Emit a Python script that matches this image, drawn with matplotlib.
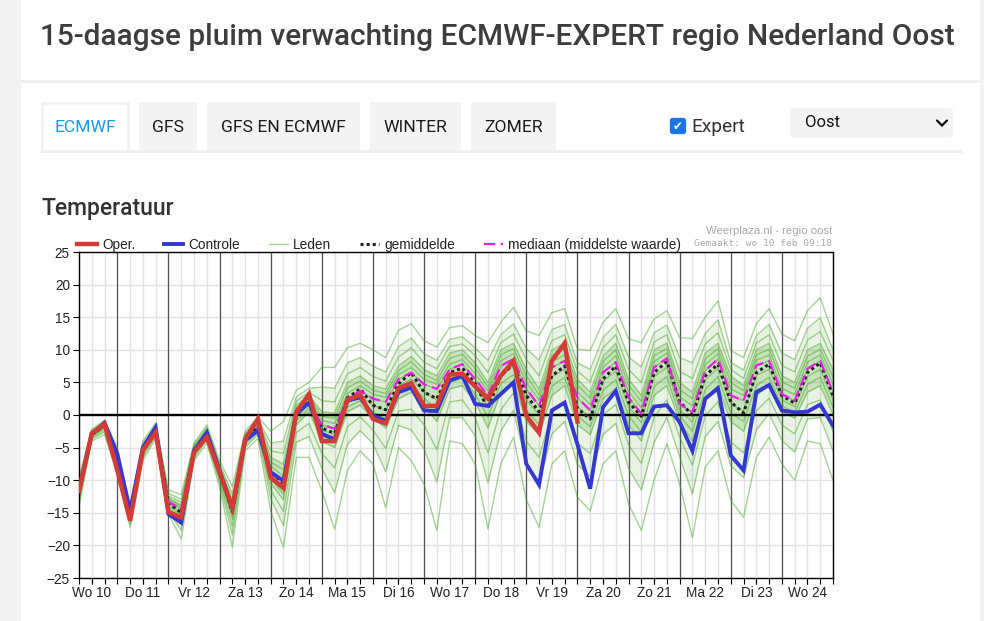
"""
15-daagse pluim (ECMWF-EXPERT, regio Nederland Oost) - Weerplaza-stijl
"""
import numpy as np
import matplotlib
matplotlib.use("Agg")
import matplotlib.pyplot as plt
from matplotlib.patches import Rectangle, FancyBboxPatch

# ─── Data ────────────────────────────────────────────────────────────────────
# uren na wo 10 feb 00:00, stappen van 6 uur
uren = list(range(6, 361, 6))
dagen = ["Wo 10", "Do 11", "Vr 12", "Za 13", "Zo 14", "Ma 15", "Di 16", "Wo 17",
         "Do 18", "Vr 19", "Za 20", "Zo 21", "Ma 22", "Di 23", "Wo 24"]

# operationele run (10 dagen)
oper = [-11.6, -2.8, -1.4, -8.5, -16.2, -5.4, -2.7, -14.9, -15.7, -5.7,
        -3.4, -8.8, -14.2, -3.7, -0.6, -9.6, -11.2, 0.4, 3.2, -4.0,
        -4.0, 2.3, 3.1, -0.6, -1.3, 4.1, 4.9, 1.4, 1.4, 6.2,
        6.3, 4.4, 2.5, 6.0, 8.3, -0.1, -2.7, 8.3, 11.0, -1.0]

controle = [-11.5, -2.9, -1.2, -6.0, -14.7, -5.0, -1.9, -15.2, -16.5, -5.5,
            -2.7, -8.5, -14.4, -3.9, -2.4, -8.8, -10.1, 0.2, 1.9, -2.9,
            -3.7, 2.2, 2.7, -0.1, -0.9, 3.5, 4.2, 0.7, 0.6, 5.3,
            6.0, 1.7, 1.4, 3.2, 5.0, -7.5, -10.7, 0.7, 1.9, -4.5,
            -11.3, 1.2, 3.7, -2.8, -2.8, 1.3, 1.5, -1.1, -5.5, 2.5,
            4.1, -6.2, -8.5, 3.5, 4.6, 0.7, 0.4, 0.5, 1.6, -1.6]

gemiddelde = [-12.0, -3.0, -1.6, -6.5, -15.5, -5.3, -2.2, -13.5, -15.0, -5.5,
              -2.8, -8.8, -14.8, -3.8, -1.8, -8.7, -10.5, 0.2, 2.0, -2.0,
              -2.8, 2.6, 4.0, 1.5, 0.8, 4.8, 6.5, 3.5, 2.5, 6.5,
              7.2, 4.8, 1.0, 6.0, 7.8, 3.0, 0.5, 6.0, 7.5, 1.0,
              -0.6, 5.5, 7.5, 2.0, -0.2, 6.5, 8.2, 2.0, 0.0, 6.0,
              7.8, 2.0, 0.3, 6.5, 7.8, 3.0, 1.8, 6.5, 8.0, 3.0]

mediaan = [-12.0, -3.0, -1.6, -6.5, -15.5, -5.3, -2.2, -13.3, -14.5, -5.5,
           -2.8, -8.8, -14.5, -3.8, -1.8, -8.5, -10.3, 0.3, 2.0, -1.5,
           -2.1, 2.5, 3.7, 2.5, 2.0, 5.5, 6.5, 4.7, 4.0, 7.0,
           7.8, 5.5, 3.0, 7.5, 8.6, 4.0, 1.4, 7.3, 8.3, 2.7,
           0.7, 6.5, 8.1, 2.7, 0.2, 7.3, 8.7, 1.7, 0.4, 6.8,
           8.6, 3.0, 2.2, 7.6, 8.3, 3.2, 2.2, 7.1, 8.3, 3.5]

# ensembleleden per tijdstap (geschat, van laag naar hoog)
leden = [
    [-14.0, -13.3, -12.9, -12.5, -12.3, -12.2, -12.0, -11.7, -11.3, -11.0, -10.6, -10.2, -9.5],
    [-4.0, -3.7, -3.5, -3.3, -3.2, -3.1, -3.0, -2.9, -2.8, -2.7, -2.6, -2.4, -2.2],
    [-3.0, -2.6, -2.3, -2.0, -1.9, -1.7, -1.6, -1.5, -1.4, -1.3, -1.2, -1.0, -0.8],
    [-9.0, -8.3, -7.9, -7.5, -7.2, -6.8, -6.5, -6.3, -6.2, -6.0, -5.8, -5.5, -5.0],
    [-17.2, -16.7, -16.3, -16.0, -15.8, -15.7, -15.5, -15.3, -15.2, -15.0, -14.8, -14.5, -14.0],
    [-7.0, -6.5, -6.1, -5.8, -5.6, -5.5, -5.3, -5.1, -5.0, -4.8, -4.6, -4.4, -4.0],
    [-3.6, -3.2, -2.9, -2.6, -2.5, -2.3, -2.2, -2.1, -1.9, -1.8, -1.7, -1.5, -1.2],
    [-15.2, -14.8, -14.5, -14.2, -13.9, -13.6, -13.3, -13.1, -12.9, -12.7, -12.4, -12.0, -11.5],
    [-19.0, -17.7, -16.8, -16.0, -15.5, -15.0, -14.5, -14.3, -14.0, -13.8, -13.4, -12.9, -12.2],
    [-7.0, -6.6, -6.3, -6.0, -5.8, -5.7, -5.5, -5.3, -5.2, -5.0, -4.8, -4.6, -4.3],
    [-4.3, -3.8, -3.5, -3.2, -3.1, -2.9, -2.8, -2.6, -2.5, -2.3, -2.1, -1.9, -1.5],
    [-11.0, -10.3, -9.9, -9.5, -9.3, -9.0, -8.8, -8.6, -8.4, -8.2, -7.9, -7.5, -7.0],
    [-20.3, -18.4, -17.1, -16.0, -15.5, -15.0, -14.5, -14.2, -13.8, -13.5, -12.9, -12.1, -11.0],
    [-5.5, -5.0, -4.6, -4.3, -4.1, -4.0, -3.8, -3.6, -3.5, -3.3, -3.1, -2.9, -2.5],
    [-3.6, -3.0, -2.6, -2.3, -2.1, -2.0, -1.8, -1.6, -1.4, -1.2, -1.0, -0.7, -0.3],
    [-14.7, -12.8, -11.5, -10.5, -9.8, -9.2, -8.5, -7.8, -7.2, -6.5, -5.5, -4.3, -2.5],
    [-20.3, -17.0, -14.8, -13.0, -12.1, -11.2, -10.3, -9.4, -8.4, -7.5, -5.9, -4.0, -1.0],
    [-6.5, -4.2, -2.7, -1.5, -0.9, -0.3, 0.3, 0.7, 1.1, 1.5, 2.1, 2.8, 3.8],
    [-6.5, -3.3, -1.3, 0.5, 1.0, 1.5, 2.0, 2.3, 2.7, 3.0, 3.5, 4.1, 5.0],
    [-11.6, -8.2, -5.9, -4.0, -3.2, -2.3, -1.5, -0.8, -0.2, 0.5, 2.2, 4.3, 7.3],
    [-17.5, -11.9, -8.1, -5.0, -4.0, -3.0, -2.1, -1.3, -0.5, 0.3, 2.0, 4.1, 7.3],
    [-8.5, -4.5, -1.8, 0.5, 1.2, 1.8, 2.5, 3.3, 4.2, 5.0, 6.3, 8.0, 10.3],
    [-5.5, -2.4, -0.3, 1.5, 2.2, 3.0, 3.7, 4.5, 5.2, 6.0, 7.3, 8.8, 11.0],
    [-7.5, -4.4, -2.3, -0.5, 0.5, 1.5, 2.5, 3.2, 3.8, 4.5, 5.9, 7.5, 10.0],
    [-14.2, -8.7, -5.1, -2.0, -0.7, 0.7, 2.0, 2.7, 3.3, 4.0, 5.2, 6.6, 8.8],
    [-5.0, -1.6, 0.6, 2.5, 3.5, 4.5, 5.5, 6.2, 6.8, 7.5, 8.9, 10.5, 13.0],
    [-7.0, -2.3, 0.9, 3.5, 4.5, 5.5, 6.5, 7.3, 8.2, 9.0, 10.3, 11.8, 14.0],
    [-10.6, -5.2, -1.5, 1.5, 2.6, 3.6, 4.7, 5.5, 6.2, 7.0, 8.1, 9.4, 11.4],
    [-17.7, -10.3, -5.3, -1.0, 0.7, 2.3, 4.0, 4.7, 5.3, 6.0, 7.1, 8.4, 10.4],
    [-4.0, -0.4, 2.0, 4.0, 5.0, 6.0, 7.0, 7.8, 8.7, 9.5, 10.5, 11.6, 13.4],
    [-4.4, -0.4, 2.3, 4.5, 5.6, 6.7, 7.8, 8.5, 9.3, 10.0, 10.9, 12.0, 13.7],
    [-7.5, -3.2, -0.4, 2.0, 3.2, 4.3, 5.5, 6.3, 7.2, 8.0, 9.1, 10.3, 12.2],
    [-17.5, -10.4, -5.8, -2.0, -0.3, 1.3, 3.0, 3.7, 4.3, 5.0, 6.5, 8.4, 11.1],
    [-7.5, -2.5, 0.8, 3.5, 4.8, 6.2, 7.5, 8.3, 9.2, 10.0, 11.1, 12.3, 14.2],
    [-3.4, 0.7, 3.4, 5.0, 6.2, 7.4, 8.6, 9.4, 10.2, 11.0, 12.4, 14.0, 16.5],
    [-13.0, -7.6, -4.0, -1.0, 0.7, 2.3, 4.0, 5.0, 6.0, 7.0, 8.5, 10.2, 12.9],
    [-17.2, -10.7, -6.5, -3.0, -1.5, 0.0, 1.4, 2.3, 3.1, 4.0, 6.0, 8.4, 12.2],
    [-7.5, -2.9, 0.4, 3.0, 4.4, 5.9, 7.3, 8.2, 9.1, 10.0, 11.4, 13.1, 15.7],
    [-5.5, -1.0, 2.0, 4.5, 5.8, 7.0, 8.3, 9.2, 10.1, 11.0, 12.3, 13.9, 16.3],
    [-12.6, -7.6, -4.3, -1.5, -0.1, 1.3, 2.7, 3.6, 4.6, 5.5, 6.7, 8.0, 10.1],
    [-14.7, -9.4, -5.9, -3.0, -1.8, -0.5, 0.7, 1.6, 2.6, 3.5, 5.1, 7.0, 9.9],
    [-7.5, -3.0, 0.0, 2.5, 3.8, 5.2, 6.5, 7.3, 8.2, 9.0, 10.3, 11.9, 14.2],
    [-5.5, -1.3, 1.6, 4.0, 5.4, 6.7, 8.1, 9.1, 10.0, 11.0, 12.3, 13.9, 16.3],
    [-13.6, -8.2, -4.6, -1.5, -0.1, 1.3, 2.7, 3.6, 4.6, 5.5, 7.0, 8.9, 11.7],
    [-17.7, -11.5, -7.4, -4.0, -2.6, -1.2, 0.2, 1.1, 2.1, 3.0, 5.0, 7.4, 11.1],
    [-10.0, -4.2, -0.3, 3.0, 4.4, 5.9, 7.3, 8.2, 9.1, 10.0, 11.2, 12.6, 14.7],
    [-4.4, -0.4, 2.3, 4.5, 5.9, 7.3, 8.7, 9.5, 10.2, 11.0, 12.3, 13.8, 16.0],
    [-10.6, -6.4, -3.4, -1.0, -0.1, 0.8, 1.7, 2.8, 3.9, 5.0, 6.7, 8.8, 11.9],
    [-18.8, -12.1, -7.7, -4.0, -2.5, -1.1, 0.4, 1.4, 2.5, 3.5, 5.6, 8.0, 11.7],
    [-8.0, -3.3, -0.1, 2.5, 3.9, 5.4, 6.8, 7.7, 8.6, 9.5, 10.9, 12.5, 15.0],
    [-5.5, -1.0, 2.0, 4.5, 5.9, 7.2, 8.6, 9.4, 10.2, 11.0, 12.6, 14.6, 17.5],
    [-13.1, -7.8, -4.1, -1.0, 0.3, 1.7, 3.0, 4.0, 5.0, 6.0, 7.0, 8.1, 9.9],
    [-15.7, -9.6, -5.8, -2.5, -1.0, 0.6, 2.2, 3.0, 3.7, 4.5, 5.6, 6.9, 8.8],
    [-6.5, -2.3, 0.6, 3.0, 4.5, 6.1, 7.6, 8.4, 9.2, 10.0, 11.0, 12.2, 14.0],
    [-3.4, 0.2, 2.6, 4.5, 5.8, 7.0, 8.3, 9.2, 10.1, 11.0, 12.3, 13.9, 16.3],
    [-7.5, -3.9, -1.5, 0.5, 1.4, 2.3, 3.2, 4.1, 5.1, 6.0, 7.6, 9.5, 12.4],
    [-10.0, -5.7, -2.9, -0.5, 0.4, 1.3, 2.2, 3.1, 4.1, 5.0, 6.6, 8.5, 11.4],
    [-4.0, -0.6, 1.6, 3.5, 4.7, 5.9, 7.1, 8.1, 9.0, 10.0, 11.5, 13.3, 16.0],
    [-4.4, -0.4, 2.3, 4.5, 5.8, 7.0, 8.3, 9.2, 10.1, 11.0, 12.8, 14.9, 18.0],
    [-10.0, -5.5, -2.5, 0.0, 1.2, 2.3, 3.5, 4.7, 5.8, 7.0, 8.4, 10.0, 12.4],
]

# ─── Stijl ───────────────────────────────────────────────────────────────────
RED = "#d43a36"
BLUE = "#3438d0"
GREEN = "#45a322"
MAGENTA = "#e81ee8"
PAGE_BG = "#f3f3f3"
GRID = "#e2e2e2"
DAYLINE = "#555555"

plt.rcParams["font.family"] = ["Liberation Sans", "DejaVu Sans"]

fig = plt.figure(figsize=(9.84, 6.21), dpi=100, facecolor=PAGE_BG)

# ─── Pagina (pixelcoordinaten) ───────────────────────────────────────────────
page = fig.add_axes([0, 0, 1, 1], zorder=0)
page.set_xlim(0, 984)
page.set_ylim(621, 0)
page.axis("off")

page.add_patch(Rectangle((21, 0), 959, 621, facecolor="white", edgecolor="none"))
page.plot([21, 980], [80.5, 80.5], color="#efefef", lw=2)

page.text(40, 37, "15-daagse pluim verwachting ECMWF-EXPERT regio Nederland Oost",
          family="Roboto", weight="medium", fontsize=21.5, color="#3d3d3d",
          ha="left", va="center")

tabs = [("ECMWF", 42, 86), ("GFS", 139, 58), ("GFS EN ECMWF", 207, 153),
        ("WINTER", 370, 91), ("ZOMER", 471, 85)]
page.plot([41, 961], [151, 151], color="#efefef", lw=2.2)
for i, (label, x0, w) in enumerate(tabs):
    if i == 0:
        page.add_patch(Rectangle((x0, 103), w, 48, facecolor="white",
                                 edgecolor="#f0f0f0", lw=1.8))
        col = "#1a9be6"
    else:
        page.add_patch(Rectangle((x0, 102), w, 49, facecolor=PAGE_BG,
                                 edgecolor="none"))
        col = "#1c1c1c"
    page.text(x0 + w / 2, 128, label, family="Roboto", fontsize=12.6,
              color=col, ha="center", va="center")

# checkbox + Expert
page.add_patch(FancyBboxPatch((671, 119), 14, 14,
                              boxstyle="round,pad=0.6,rounding_size=2.5",
                              facecolor="#1a73e8", edgecolor="#1a73e8", lw=0.8))
page.text(678, 126.5, "\u2714", family="DejaVu Sans", fontsize=8.5,
          color="white", ha="center", va="center")
page.text(691, 127.5, "Expert", family="Roboto", fontsize=13.8, color="#333333",
          ha="left", va="center")

# dropdown
page.add_patch(FancyBboxPatch((791, 109), 161, 28,
                              boxstyle="round,pad=1,rounding_size=4",
                              facecolor=PAGE_BG, edgecolor="none"))
page.text(805, 122.5, "Oost", family="Roboto", fontsize=12, color="#111111",
          ha="left", va="center")
page.plot([937, 942, 947], [120.5, 125.5, 120.5], color="#111111", lw=1.6,
          solid_capstyle="round", solid_joinstyle="miter")

page.text(41, 209, "Temperatuur", family="Roboto", weight="medium",
          fontsize=16.5, color="#333333", ha="left", va="center")

page.text(832, 231.5, "Weerplaza.nl - regio oost", fontsize=8.2,
          color="#a8a8a8", ha="right", va="center")
page.text(832, 243.5, "Gemaakt: wo 10 feb 09:18", family="DejaVu Sans Mono",
          fontsize=6.8, color="#a8a8a8", ha="right", va="center")

# ─── Grafiek ─────────────────────────────────────────────────────────────────
ax = fig.add_axes([79 / 984, (621 - 578) / 621, 754 / 984, 326 / 621], zorder=1)
ax.set_facecolor("white")

x = np.array(uren) / 24.0
ens = np.array(leden)

# dichtheid van de pluim: band tussen de middelste leden
ax.fill_between(x, ens[:, 1], ens[:, -2], color=GREEN, alpha=0.12, lw=0,
                zorder=1.8)
ax.fill_between(x, ens[:, 3], ens[:, -4], color=GREEN, alpha=0.20, lw=0,
                zorder=1.8)
for k in range(ens.shape[1]):
    h_leden, = ax.plot(x, ens[:, k], color=GREEN, lw=1.0, alpha=0.48, zorder=2)

ax.axhline(0, color="black", lw=1.7, zorder=2.5)

h_mean, = ax.plot(x, gemiddelde, color="#222222", lw=2.2,
                  linestyle=(0, (1, 1)), zorder=3)
h_med, = ax.plot(x, mediaan, color=MAGENTA, lw=1.6,
                 linestyle=(0, (5, 2.5)), zorder=3.2)
h_ctrl, = ax.plot(x, controle, color=BLUE, lw=2.8, zorder=3.5,
                  solid_joinstyle="miter")
h_oper, = ax.plot(x[:len(oper)], oper, color=RED, lw=3.2, zorder=4,
                  solid_joinstyle="miter")

ax.set_xlim(x[0], x[-1])
ax.set_ylim(-25, 25)

# assen en raster
ax.set_yticks(np.arange(-25, 26, 5))
ax.set_xticks(np.arange(len(dagen)) + 0.5)
ax.set_xticklabels(dagen)
ax.set_xticks(x, minor=True)
ax.xaxis.remove_overlapping_locs = False
ax.grid(which="minor", axis="x", color=GRID, lw=1.0, zorder=1)
ax.grid(which="major", axis="y", color=GRID, lw=1.0, zorder=1)
ax.set_axisbelow(True)
for d in range(1, len(dagen)):
    ax.axvline(d, color=DAYLINE, lw=0.9, zorder=1.5)

ax.tick_params(axis="both", which="both", direction="out", length=4,
               width=0.8, color="black", labelsize=9.8, labelcolor="#222222")
ax.tick_params(axis="x", which="major", pad=2)
ax.tick_params(axis="y", pad=2.5)
for s in ax.spines.values():
    s.set_color("black")
    s.set_linewidth(1.0)

ax.legend([h_oper, h_ctrl, h_leden, h_mean, h_med],
          ["Oper.", "Controle", "Leden", "gemiddelde",
           "mediaan (middelste waarde)"],
          loc="lower left", bbox_to_anchor=(-0.002, 1.0), ncol=5,
          frameon=False, borderpad=0, borderaxespad=0, handlelength=1.4,
          handletextpad=0.4, columnspacing=2.1, fontsize=9.8,
          labelcolor="#222222")

fig.savefig("out.png", dpi=100, facecolor=PAGE_BG)
